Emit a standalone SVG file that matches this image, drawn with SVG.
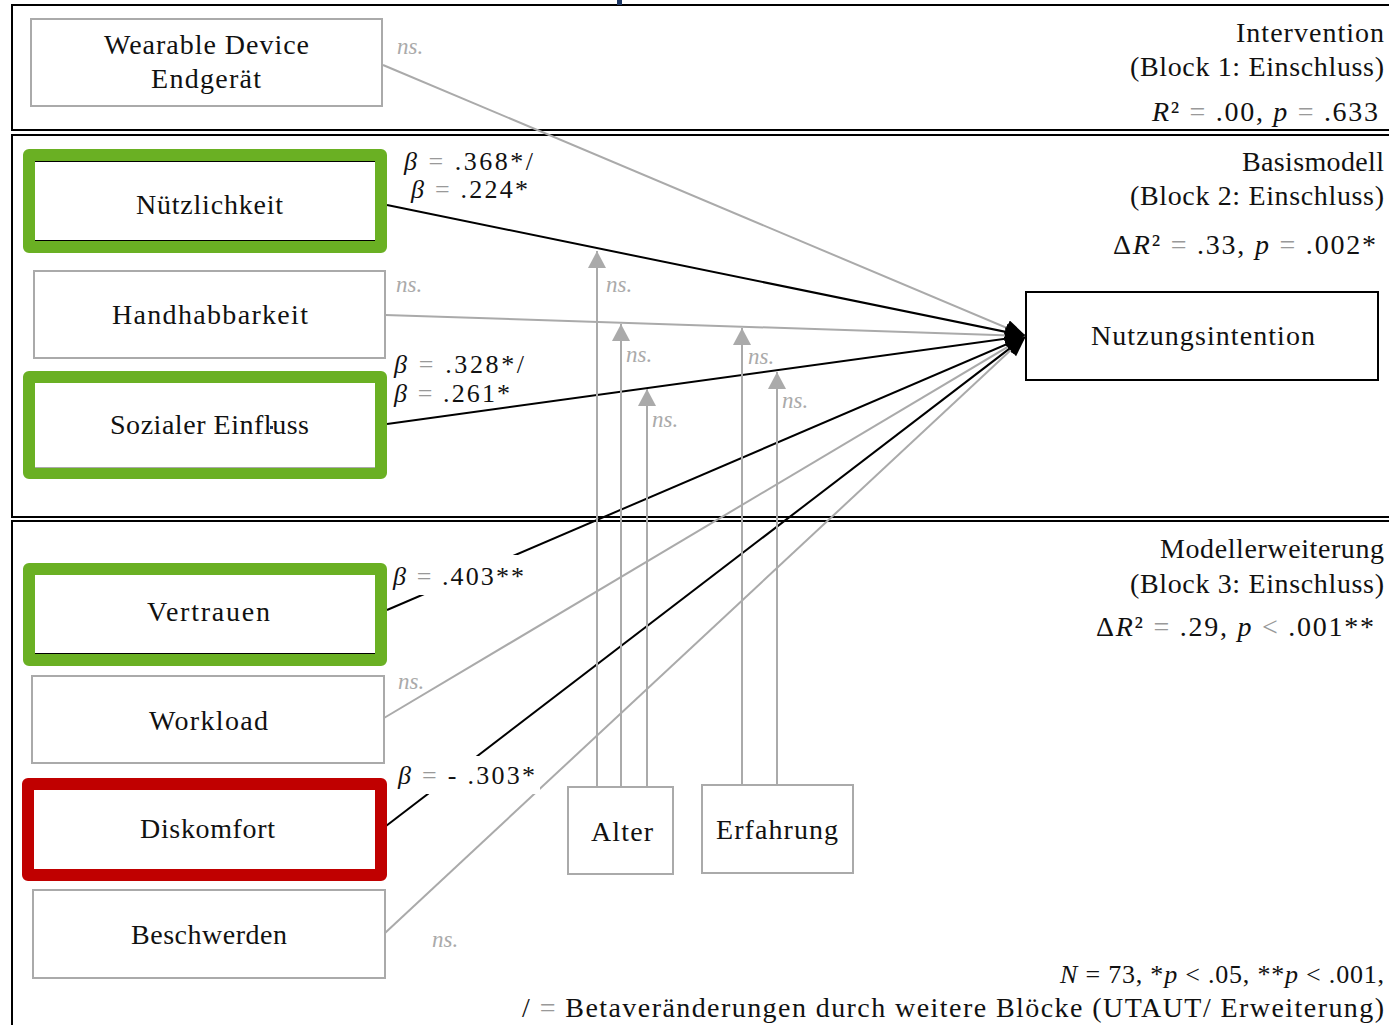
<svg xmlns="http://www.w3.org/2000/svg" width="1389" height="1025" viewBox="0 0 1389 1025">
  <style>
    .frame { fill: none; stroke: #000; stroke-width: 2; }
    .box { fill: #fff; stroke: #aaa; stroke-width: 2; }
    .target { fill: #fff; stroke: #000; stroke-width: 2; }
    .pos { fill: #fff; stroke: #6ab023; stroke-width: 12; stroke-linejoin: round; }
    .neg { fill: #fff; stroke: #c00000; stroke-width: 12; stroke-linejoin: round; }
    .lbl { font-family: "Liberation Serif", serif; font-size: 28px; fill: #111; }
    .beta { font-family: "Liberation Serif", serif; font-size: 26px; fill: #111; }
    .ns { font-family: "Liberation Serif", serif; font-style: italic; font-size: 23px; fill: #aaa; }
    .note { font-family: "Liberation Serif", serif; font-size: 26px; fill: #111; }
    .it { font-style: italic; }
    .eq { fill: #999; }
    .sig { fill: none; stroke: #000; stroke-width: 2; }
    .nsl { fill: none; stroke: #aaa; stroke-width: 2; }
    .mask { fill: #fff; stroke: none; }
  </style>
  <defs>
    <marker id="headBlack" markerUnits="userSpaceOnUse" markerWidth="22" markerHeight="18" refX="21" refY="8" orient="auto">
      <path d="M0,0 L21,8 L0,16 Z" fill="#000"/>
    </marker>
    <marker id="headGrey" markerUnits="userSpaceOnUse" markerWidth="20" markerHeight="20" refX="17" refY="9" orient="auto">
      <path d="M0,0 L17,9 L0,18 Z" fill="#aaa"/>
    </marker>
  </defs>

  <rect width="1389" height="1025" fill="#fff"/>

  <!-- block frames -->
  <g id="blocks">
    <rect class="frame" x="12" y="5" width="1400" height="125"/>
    <rect class="frame" x="12" y="135" width="1400" height="382"/>
    <rect class="frame" x="12" y="521" width="1400" height="520"/>
    <rect x="617" y="0" width="5" height="5" fill="#1f3864"/>
  </g>

  <!-- paths into the outcome and moderator arrows -->
  <g id="connectors">
    <line class="nsl" x1="383" y1="65" x2="1026" y2="336" marker-end="url(#headBlack)"/>
    <line class="sig" x1="387" y1="205" x2="1026" y2="336" marker-end="url(#headBlack)"/>
    <line class="nsl" x1="385" y1="315" x2="1026" y2="336" marker-end="url(#headBlack)"/>
    <line class="sig" x1="387" y1="424" x2="1026" y2="336" marker-end="url(#headBlack)"/>
    <line class="sig" x1="387" y1="610" x2="1026" y2="336" marker-end="url(#headBlack)"/>
    <line class="nsl" x1="384" y1="718" x2="1026" y2="336" marker-end="url(#headBlack)"/>
    <line class="sig" x1="386" y1="826" x2="1026" y2="336" marker-end="url(#headBlack)"/>
    <line class="nsl" x1="385" y1="933" x2="1026" y2="336" marker-end="url(#headBlack)"/>

    <line class="nsl" x1="597" y1="787" x2="597" y2="251" marker-end="url(#headGrey)"/>
    <line class="nsl" x1="621" y1="787" x2="621" y2="324" marker-end="url(#headGrey)"/>
    <line class="nsl" x1="647" y1="787" x2="647" y2="389" marker-end="url(#headGrey)"/>
    <line class="nsl" x1="742" y1="785" x2="742" y2="328" marker-end="url(#headGrey)"/>
    <line class="nsl" x1="777" y1="785" x2="777" y2="372" marker-end="url(#headGrey)"/>
  </g>

  <!-- path coefficients -->
  <g id="coefficients">
    <rect class="mask" x="389" y="555" width="143" height="40"/>
    <rect class="mask" x="389" y="756" width="151" height="38"/>

    <text class="beta" x="404" y="170" textLength="129"><tspan class="it">β</tspan> <tspan class="eq">=</tspan> .368*/</text>
    <text class="beta" x="411" y="198" textLength="117"><tspan class="it">β</tspan> <tspan class="eq">=</tspan> .224*</text>
    <text class="beta" x="394" y="373" textLength="130"><tspan class="it">β</tspan> <tspan class="eq">=</tspan> .328*/</text>
    <text class="beta" x="394" y="402" textLength="116"><tspan class="it">β</tspan> <tspan class="eq">=</tspan> .261*</text>
    <text class="beta" x="393" y="585" textLength="131"><tspan class="it">β</tspan> <tspan class="eq">=</tspan> .403**</text>
    <text class="beta" x="398" y="784" textLength="137"><tspan class="it">β</tspan> <tspan class="eq">=</tspan> - .303*</text>

    <text class="ns" x="397" y="54">ns.</text>
    <text class="ns" x="396" y="292">ns.</text>
    <text class="ns" x="606" y="292">ns.</text>
    <text class="ns" x="626" y="362">ns.</text>
    <text class="ns" x="652" y="427">ns.</text>
    <text class="ns" x="748" y="364">ns.</text>
    <text class="ns" x="782" y="408">ns.</text>
    <text class="ns" x="398" y="689">ns.</text>
    <text class="ns" x="432" y="947">ns.</text>
  </g>

  <!-- predictors -->
  <g id="wearable">
    <rect class="box" x="31" y="19" width="351" height="87"/>
    <text class="lbl" x="104" y="54" textLength="205">Wearable Device</text>
    <text class="lbl" x="151" y="88" textLength="110">Endgerät</text>
  </g>
  <g id="nuetzlichkeit">
    <rect class="pos" x="29" y="155" width="352" height="92"/>
    <line x1="35" y1="161.5" x2="375" y2="161.5" stroke="#000" stroke-width="1"/>
    <line x1="35" y1="240.5" x2="375" y2="240.5" stroke="#000" stroke-width="1"/>
    <text class="lbl" x="136" y="214" textLength="147">Nützlichkeit</text>
  </g>
  <g id="handhabbarkeit">
    <rect class="box" x="34" y="271" width="351" height="87"/>
    <text class="lbl" x="112" y="324" textLength="196">Handhabbarkeit</text>
  </g>
  <g id="sozialer-einfluss">
    <rect class="pos" x="29" y="377" width="352" height="96"/>
    <line x1="35" y1="467.5" x2="375" y2="467.5" stroke="#aaa" stroke-width="1"/>
    <text class="lbl" x="110" y="434" textLength="199">Sozialer Einfluss</text>
    <rect x="270" y="426" width="3" height="3" fill="#1f3864"/>
  </g>
  <g id="vertrauen">
    <rect class="pos" x="29" y="569" width="352" height="91"/>
    <line x1="35" y1="653.5" x2="375" y2="653.5" stroke="#000" stroke-width="1"/>
    <text class="lbl" x="147" y="621" textLength="123">Vertrauen</text>
  </g>
  <g id="workload">
    <rect class="box" x="32" y="676" width="352" height="87"/>
    <text class="lbl" x="149" y="730" textLength="119">Workload</text>
  </g>
  <g id="diskomfort">
    <rect class="neg" x="28" y="784" width="353" height="91"/>
    <text class="lbl" x="140" y="838" textLength="135">Diskomfort</text>
  </g>
  <g id="beschwerden">
    <rect class="box" x="33" y="890" width="352" height="88"/>
    <text class="lbl" x="131" y="944" textLength="156">Beschwerden</text>
  </g>

  <!-- moderators -->
  <g id="alter">
    <rect class="box" x="568" y="787" width="105" height="87"/>
    <text class="lbl" x="591" y="841" textLength="62">Alter</text>
  </g>
  <g id="erfahrung">
    <rect class="box" x="702" y="785" width="151" height="88"/>
    <text class="lbl" x="716" y="839" textLength="122">Erfahrung</text>
  </g>

  <!-- outcome -->
  <g id="nutzungsintention">
    <rect class="target" x="1026" y="292" width="352" height="88"/>
    <text class="lbl" x="1091" y="345" textLength="224">Nutzungsintention</text>
  </g>

  <!-- block captions -->
  <g id="captions">
    <text class="lbl" x="1236" y="42" textLength="148">Intervention</text>
    <text class="lbl" x="1130" y="76" textLength="254">(Block 1: Einschluss)</text>
    <text class="lbl" x="1152" y="121" textLength="226"><tspan class="it">R</tspan>² <tspan class="eq">=</tspan> .00, <tspan class="it">p</tspan> <tspan class="eq">=</tspan> .633</text>

    <text class="lbl" x="1242" y="171" textLength="142">Basismodell</text>
    <text class="lbl" x="1130" y="205" textLength="254">(Block 2: Einschluss)</text>
    <text class="lbl" x="1113" y="254" textLength="263">Δ<tspan class="it">R</tspan>² <tspan class="eq">=</tspan> .33, <tspan class="it">p</tspan> <tspan class="eq">=</tspan> .002*</text>

    <text class="lbl" x="1160" y="558" textLength="224">Modellerweiterung</text>
    <text class="lbl" x="1130" y="593" textLength="254">(Block 3: Einschluss)</text>
    <text class="lbl" x="1096" y="636" textLength="278">Δ<tspan class="it">R</tspan>² <tspan class="eq">=</tspan> .29, <tspan class="it">p</tspan> <tspan class="eq">&lt;</tspan> .001**</text>

    <text class="note" x="1060" y="983" textLength="324"><tspan class="it">N</tspan> = 73, *<tspan class="it">p</tspan> &lt; .05, **<tspan class="it">p</tspan> &lt; .001,</text>
    <text class="lbl" x="522" y="1017" textLength="862">/ <tspan class="eq">=</tspan> Betaveränderungen durch weitere Blöcke (UTAUT/ Erweiterung)</text>
  </g>
</svg>
